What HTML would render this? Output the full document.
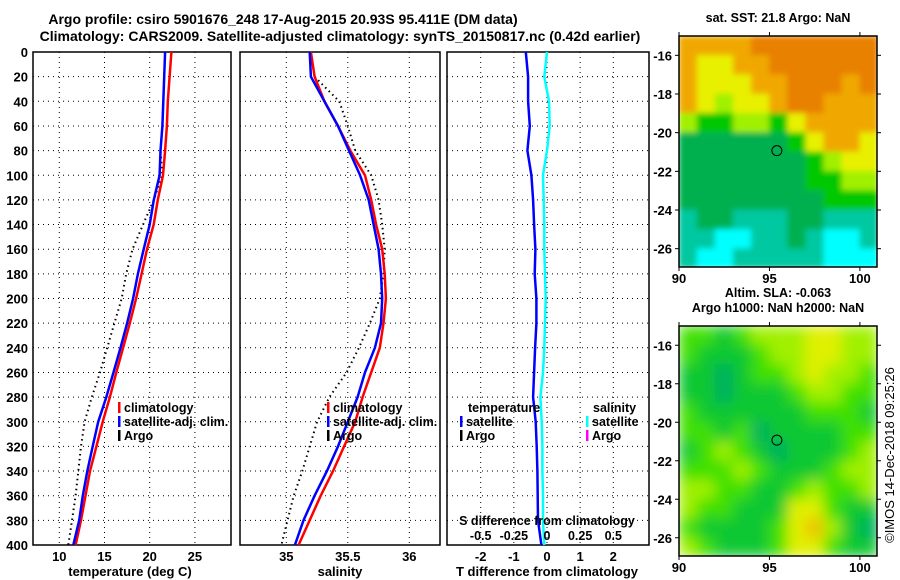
<!DOCTYPE html>
<html><head><meta charset="utf-8">
<style>
html,body{margin:0;padding:0;background:#fff;}
svg{display:block;font-family:"Liberation Sans",sans-serif;font-weight:bold;}
</style></head>
<body>
<svg id="fig" width="900" height="580" viewBox="0 0 900 580" xmlns="http://www.w3.org/2000/svg">
<text x="283" y="24" font-size="14" text-anchor="middle">Argo profile: csiro 5901676_248 17-Aug-2015 20.93S 95.411E (DM data)</text>
<text x="340" y="41" font-size="14" text-anchor="middle">Climatology: CARS2009. Satellite-adjusted climatology: synTS_20150817.nc (0.42d earlier)</text>
<g id="p1"></g>
<g id="p2"></g>
<g id="p3"></g>
<g id="m1"></g>
<g id="m2"></g>
<text transform="translate(894,455) rotate(-90)" font-size="13" font-weight="normal" text-anchor="middle">©IMOS 14-Dec-2018 09:25:26</text>
</svg>
<script>
const depths=[0,20,40,60,80,100,120,140,160,180,200,220,240,260,280,300,320,340,360,380,400];
const tempClim=[22.4,22.2,22.0,21.9,21.7,21.47,20.9,20.44,19.7,19.1,18.5,17.8,17.06,16.3,15.6,14.8,14.1,13.4,12.9,12.4,11.8];
const tempSat=[21.7,21.6,21.5,21.4,21.2,21.1,20.45,20.0,19.34,18.7,18.16,17.5,16.77,16.0,15.2,14.3,13.7,13.1,12.6,12.2,11.55];
const tempArgo=[21.7,21.6,21.5,21.4,21.2,21.4,20.45,19.27,18.1,17.4,16.9,16.1,15.3,14.5,13.6,12.8,12.4,12.1,11.8,11.4,11.0];
const salClim=[35.20,35.23,35.31,35.42,35.52,35.64,35.69,35.73,35.78,35.80,35.81,35.79,35.76,35.69,35.62,35.56,35.47,35.38,35.28,35.19,35.10];
const salSat=[35.19,35.20,35.31,35.42,35.51,35.60,35.67,35.71,35.75,35.77,35.78,35.77,35.72,35.64,35.58,35.50,35.42,35.33,35.23,35.14,35.07];
const salArgo=[35.20,35.23,35.43,35.50,35.56,35.69,35.75,35.78,35.80,35.79,35.76,35.68,35.59,35.49,35.35,35.25,35.19,35.13,35.06,35.01,34.96];
const tDiff=[-0.64,-0.57,-0.57,-0.52,-0.59,-0.47,-0.42,-0.39,-0.35,-0.37,-0.32,-0.32,-0.36,-0.39,-0.42,-0.34,-0.31,-0.29,-0.28,-0.27,-0.17];
const sDiff=[0.0,-0.02,0.015,0.02,0.0,-0.03,-0.025,-0.02,-0.02,-0.015,-0.01,-0.015,-0.02,-0.03,-0.05,-0.04,-0.035,-0.035,-0.03,-0.03,-0.02];
const depthTicks=[0,20,40,60,80,100,120,140,160,180,200,220,240,260,280,300,320,340,360,380,400];
const tempTicks=[10,15,20,25];
const salTicks=[35,35.5,36];
const tdTicks=[-2,-1,0,1,2];
const sdTickLabels=["-0.5","-0.25","0","0.25","0.5"];
const sdTicks=[-0.5,-0.25,0,0.25,0.5];
const lonTicks=[90,95,100];
const lat1Ticks=[-16,-18,-20,-22,-24,-26];
const sstGrid=[
[5,5,5,5,6,6,6,6,6,6,6],
[5,4,4,5,5,6,6,6,6,6,6],
[5,4,4,4,5,5,6,6,6,5,6],
[5,4,3,4,4,5,6,6,5,5,5],
[3,2,2,3,3,2,4,5,5,5,5],
[1,1,1,1,1,1,2,4,5,5,4],
[1,1,1,1,1,1,1,2,3,4,4],
[1,1,1,1,1,1,1,2,2,3,3],
[1,1,1,1,1,1,1,1,2,2,2],
[0,1,1,0,0,0,1,1,0,0,0],
[0,0,-1,-1,0,0,1,0,-1,-1,0],
[0,-1,-1,0,0,0,0,0,-1,-1,-1]];
const slaGrid=[
[2,2,1,2,3,3,3,4,4,3,3],
[2,1,1,1,2,3,3,4,4,3,3],
[1,1,0,1,2,2,3,4,3,3,2],
[1,1,0,1,1,1,2,3,3,2,2],
[2,1,1,1,1,1,1,2,2,2,1],
[2,2,1,2,0,1,1,1,1,2,2],
[1,2,3,2,1,0,1,1,1,2,3],
[2,2,2,3,2,1,1,1,2,3,3],
[3,3,2,2,1,1,2,3,2,2,3],
[3,2,2,1,1,1,4,4,2,1,1],
[2,1,1,1,1,2,4,5,3,1,0],
[3,2,1,1,1,2,4,4,2,1,1]];
const argoLon=95.411, argoLat=-20.93;

const NS="http://www.w3.org/2000/svg";
function mk(parent,tag,attrs){const e=document.createElementNS(NS,tag);for(const k in attrs)e.setAttribute(k,attrs[k]);parent.appendChild(e);return e;}
const Y0=52,Y1=545;
function yD(d){return Y0+(d/400)*(Y1-Y0);}
function lin(d0,d1,r0,r1){return v=>r0+(v-d0)/(d1-d0)*(r1-r0);}

function panel(g,x0,x1,xs,xTicks,xLabels,gridX){
  depthTicks.forEach(d=>{
    const l=mk(g,'line',{x1:x0,x2:x1,y1:yD(d),y2:yD(d),stroke:'#000','stroke-width':1,'stroke-dasharray':'1,4'});
    
    
  });
  gridX.forEach(v=>{
    const l=mk(g,'line',{x1:xs(v),x2:xs(v),y1:Y0,y2:Y1,stroke:'#000','stroke-width':1,'stroke-dasharray':'1,4'});
    
    
  });
  const r=mk(g,'rect',{x:x0,y:Y0,width:x1-x0,height:Y1-Y0,fill:'none',stroke:'#000','stroke-width':1.5});
  
  
  if(xLabels){xTicks.forEach((v,i)=>{
    const t=mk(g,'text',{x:xs(v),y:Y1+16,'font-size':13,'text-anchor':'middle'});t.textContent=xLabels[i];
    
    
  });}
}
function series(g,vals,xs,color,dash,name){
  const pts=vals.map((v,i)=>xs(v).toFixed(1)+','+yD(depths[i]).toFixed(1)).join(' ');
  const p=mk(g,'polyline',{points:pts,fill:'none',stroke:color,'stroke-width':dash?2:2.5});
  if(dash)p.setAttribute('stroke-dasharray','1.5,3.5');
  
  
}
function legend(g,x,y,color,label){
  const m=mk(g,'rect',{x:x,y:y-10,width:2.5,height:11,fill:color});
  
  
  const t=mk(g,'text',{x:x+6,y:y,'font-size':12.5});t.textContent=label;
  
  
}

const p1=document.getElementById('p1');
const xT=lin(10,20,59.3,149.7);
panel(p1,33,231,xT,tempTicks,tempTicks.map(String),tempTicks);
depthTicks.forEach(d=>{
  const t=mk(p1,'text',{x:28,y:yD(d)+5,'font-size':13,'text-anchor':'end'});t.textContent=d;
  
  
});
series(p1,tempArgo,xT,'#000',true,'temp-argo-line');
series(p1,tempClim,xT,'#f00',false,'temp-climatology-line');
series(p1,tempSat,xT,'#00f',false,'temp-satellite-line');
legend(p1,118,412,'#f00','climatology');
legend(p1,118,426,'#00f','satellite-adj. clim.');
legend(p1,118,440,'#000','Argo');
let t=mk(p1,'text',{x:130,y:576,'font-size':13,'text-anchor':'middle'});t.textContent='temperature (deg C)';



const p2=document.getElementById('p2');
const xS=lin(35,36,286.3,409.3);
panel(p2,240,440,xS,salTicks,salTicks.map(String),salTicks);
series(p2,salArgo,xS,'#000',true,'sal-argo-line');
series(p2,salClim,xS,'#f00',false,'sal-climatology-line');
series(p2,salSat,xS,'#00f',false,'sal-satellite-line');
legend(p2,327,412,'#f00','climatology');
legend(p2,327,426,'#00f','satellite-adj. clim.');
legend(p2,327,440,'#000','Argo');
t=mk(p2,'text',{x:340,y:576,'font-size':13,'text-anchor':'middle'});t.textContent='salinity';



const p3=document.getElementById('p3');
const xTD=lin(-2,2,480.7,613.3);
const xSD=lin(-0.5,0.5,480.7,613.3);
panel(p3,447,649,xTD,tdTicks,tdTicks.map(String),tdTicks);
series(p3,sDiff,xSD,'#0ff',false,'salinity-difference-line');
series(p3,tDiff,xTD,'#00f',false,'temperature-difference-line');
t=mk(p3,'text',{x:468,y:412,'font-size':12.5});t.textContent='temperature';


t=mk(p3,'text',{x:593,y:412,'font-size':12.5});t.textContent='salinity';


legend(p3,460,426,'#00f','satellite');
legend(p3,460,440,'#000','Argo');
legend(p3,586,426,'#0ff','satellite');
legend(p3,586,440,'#f0f','Argo');
t=mk(p3,'text',{x:547,y:525,'font-size':12.5,'text-anchor':'middle'});t.textContent='S difference from climatology';


sdTicks.forEach((v,i)=>{
  const s=mk(p3,'text',{x:xSD(v),y:540,'font-size':12.5,'text-anchor':'middle'});s.textContent=sdTickLabels[i];
  
  
});
t=mk(p3,'text',{x:547,y:576,'font-size':13,'text-anchor':'middle'});t.textContent='T difference from climatology';



const sstColors={'-1':'#00ffff','0':'#00c8a0','1':'#00b050','2':'#00c800','3':'#a0f000','4':'#e8f000','5':'#f0a800','6':'#e88000'};
const slaColors={'0':'#00b060','1':'#10c830','2':'#40e000','3':'#a0f000','4':'#e0f000','5':'#f0c000'};
function map(g,top,bottom,grid,colors,title,blur,id){
  const L=679,R=877;
  const lon=lin(90,101,L,R+1);
  const lat=lin(-15,-27,top,bottom+1);
  const clip=mk(g,'clipPath',{id:'c'+id});
  mk(clip,'rect',{x:L,y:top,width:R-L,height:bottom-top});
  const outer=mk(g,'g',{'clip-path':'url(#c'+id+')'});
  const cg=mk(outer,'g',{filter:'url(#'+blur+')'});
  const rows=grid.length;
  grid.forEach((row,ri)=>row.forEach((v,ci)=>{
    const x=lon(90+ci), y=lat(-15-ri*(12/rows));
    const r=mk(cg,'rect',{x:x-0.3,y:y-0.3,width:lon(91)-lon(90)+0.6,height:(lat(-16)-lat(-15))*(12/rows)+0.6,fill:colors[v]});
    
    
  }));
  const fr=mk(g,'rect',{x:L,y:top,width:R-L,height:bottom-top,fill:'none',stroke:'#000','stroke-width':1.5});
  
  
  const c=mk(g,'circle',{cx:lon(argoLon),cy:lat(argoLat),r:5,fill:'none',stroke:'#000','stroke-width':1});
  
  
  lat1Ticks.forEach(v=>{
    mk(g,'line',{x1:L-4,x2:L,y1:lat(v),y2:lat(v),stroke:'#000'});
    mk(g,'line',{x1:R,x2:R+4,y1:lat(v),y2:lat(v),stroke:'#000'});
    const s=mk(g,'text',{x:L-7,y:lat(v)+5,'font-size':13,'text-anchor':'end'});s.textContent=v;
    
    
  });
  lonTicks.forEach(v=>{
    mk(g,'line',{x1:lon(v),x2:lon(v),y1:top-4,y2:top,stroke:'#000'});
    mk(g,'line',{x1:lon(v),x2:lon(v),y1:bottom,y2:bottom+4,stroke:'#000'});
    const s=mk(g,'text',{x:lon(v),y:bottom+16,'font-size':13,'text-anchor':'middle'});s.textContent=v;
    
    
  });
  title.forEach((tt,i)=>{
    const s=mk(g,'text',{x:778,y:top-14-(title.length-1-i)*15,'font-size':12.5,'text-anchor':'middle'});s.textContent=tt;
    
    
  });
}
const defs=mk(document.getElementById('fig'),'defs',{});
const f=mk(defs,'filter',{id:'bl',x:'-5%',y:'-5%',width:'110%',height:'110%'});
mk(f,'feGaussianBlur',{stdDeviation:7,edgeMode:'duplicate'});
const f2=mk(defs,'filter',{id:'bs',x:'-5%',y:'-5%',width:'110%',height:'110%'});
mk(f2,'feGaussianBlur',{stdDeviation:3,edgeMode:'duplicate'});
map(document.getElementById('m1'),36,267,sstGrid,sstColors,['sat. SST: 21.8 Argo: NaN'],'bs','a');
map(document.getElementById('m2'),326,556,slaGrid,slaColors,['Altim. SLA: -0.063','Argo h1000: NaN h2000: NaN'],'bl','b');
</script>
</body></html>
